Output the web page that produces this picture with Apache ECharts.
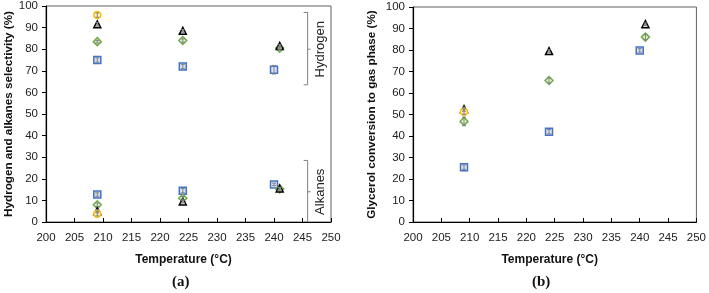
<!DOCTYPE html>
<html><head><meta charset="utf-8">
<script src="https://cdn.jsdelivr.net/npm/echarts@6/dist/echarts.min.js"></script>
<style>html,body{margin:0;padding:0;background:#fff}#c{width:709px;height:293px}</style>
</head><body><div id="c"></div>
<script>
// ---- data ----
const xTicks = [200, 205, 210, 215, 220, 225, 230, 235, 240, 245, 250];
const yTicks = [0, 10, 20, 30, 40, 50, 60, 70, 80, 90, 100];
const tempsBlue = [209, 224, 240];
const tempsBG = [209, 224, 241];   // black & green
const tempsYellow = [209];

// (a) hydrogen selectivity
const blueH = [75, 72, 70.5];
const greenH = [83.5, 84, 80.5];
const blackH = [91.5, 88.5, 81.5];
const yellowH = [95.8];
// (a) alkanes selectivity
const blueA = [12.7, 14.5, 17.4];
const greenA = [8, 11, 15.3];
const blackA = [5, 9.5, 15.5];
const yellowA = [3.8];
// (b) glycerol conversion to gas phase
const blueG = [25.5, 42, 79.8];
const greenG = [46.8, 65.8, 86];
const blackG = [52.5, 79.5, 92];
const yellowG = [51.3];

// error bars (half-widths)
const blueHErr = [1, 1, 2];
const greenHErr = [0.6, 0.8, 0.6];
const blackHErr = [0.8, 0.6, 0.6];
const yellowHErr = [1];
const blueAErr = [0.8, 1, 0.6];
const greenAErr = [0.8, 0.8, 0.6];
const blackAErr = [0.8, 0.6, 0.6];
const yellowAErr = [1];
const blueGErr = [1, 1, 0.8];
const greenGErr = [2, 1.2, 1.2];
const blackGErr = [1, 0.6, 0.6];
const yellowGErr = [1.2];

const pair = (xs, ys) => xs.map((x, i) => [x, ys[i]]);
const errPair = (xs, ys, es) => xs.map((x, i) => [x, ys[i], es[i]]);

const styles = {
  blue:   {symbol: 'rect',     size: 7, border: '#4472C4', fill: '#dae3f3'},
  green:  {symbol: 'diamond',  size: 8, border: '#70AD47', fill: '#e2f0d9'},
  black:  {symbol: 'triangle', size: 7, border: '#000000', fill: '#e0e0e0'},
  yellow: {symbol: 'circle',   size: 7, border: '#FFC000', fill: '#fff2cc'}
};

function scat(idx, key, xs, ys, z) {
  const s = styles[key];
  return {type: 'scatter', xAxisIndex: idx, yAxisIndex: idx, symbol: s.symbol, symbolSize: s.size,
    itemStyle: {color: s.fill, borderColor: s.border, borderWidth: 1.5, opacity: 1},
    z: z, silent: true, data: pair(xs, ys)};
}
function errs(idx, xs, ys, es) {
  return {type: 'custom', xAxisIndex: idx, yAxisIndex: idx, z: 10, silent: true,
    data: errPair(xs, ys, es),
    renderItem: function (params, api) {
      const x = api.value(0), y = api.value(1), e = api.value(2);
      const top = api.coord([x, y + e]), bot = api.coord([x, y - e]);
      const st = {stroke: '#808080', lineWidth: 1};
      return {type: 'group', children: [
        {type: 'line', shape: {x1: top[0], y1: top[1], x2: bot[0], y2: bot[1]}, style: st},
        {type: 'line', shape: {x1: top[0] - 2, y1: top[1], x2: top[0] + 2, y2: top[1]}, style: st},
        {type: 'line', shape: {x1: bot[0] - 2, y1: bot[1], x2: bot[0] + 2, y2: bot[1]}, style: st}
      ]};
    }};
}

const tickFont = {fontFamily: 'Liberation Sans', fontSize: 11.5, color: '#222'};
const titleFont = {fontFamily: 'Liberation Sans', fontSize: 11.7, fontWeight: 'bold', color: '#111'};

function xAx(idx) {
  return {type: 'value', gridIndex: idx, min: 200, max: 250, interval: 5,
    axisLine: {show: true, lineStyle: {color: '#000', width: 1.2}},
    axisTick: {show: true, inside: true, length: 4, lineStyle: {color: '#000'}},
    splitLine: {show: false},
    axisLabel: Object.assign({margin: 10, formatter: v => xTicks.includes(v) ? String(v) : ''}, tickFont),
    name: 'Temperature (°C)', nameLocation: 'middle', nameGap: 32,
    nameTextStyle: Object.assign({padding: [0, 10, 0, 0]}, titleFont, {fontSize: 12})};
}
function yAx(idx, name, gap) {
  return {type: 'value', gridIndex: idx, min: 0, max: 100, interval: 10,
    axisLine: {show: true, lineStyle: {color: '#000', width: 1.2}},
    axisTick: {show: true, inside: false, length: 4, lineStyle: {color: '#000'}},
    splitLine: {show: false},
    axisLabel: Object.assign({margin: 8, formatter: v => yTicks.includes(v) ? String(v) : ''}, tickFont),
    name: name, nameLocation: 'middle', nameGap: gap, nameRotate: 90,
    nameTextStyle: titleFont};
}

const chart = echarts.init(document.getElementById('c'), null, {renderer: 'canvas'});
const option = {
  animation: false,
  backgroundColor: '#fff',
  grid: [
    {left: 46, top: 6, right: 378, bottom: 71, show: true, borderColor: '#606060', borderWidth: 1, backgroundColor: 'transparent'},
    {left: 413, top: 7, right: 11, bottom: 71, show: true, borderColor: '#606060', borderWidth: 1, backgroundColor: 'transparent'}
  ],
  xAxis: [xAx(0), xAx(1)],
  yAxis: [yAx(0, 'Hydrogen and alkanes selectivity (%)', 31), yAx(1, 'Glycerol conversion to gas phase (%)', 35)],
  series: [
    scat(0, 'blue', tempsBlue, blueH, 2), scat(0, 'green', tempsBG, greenH, 3),
    scat(0, 'black', tempsBG, blackH, 4), scat(0, 'yellow', tempsYellow, yellowH, 5),
    scat(0, 'blue', tempsBlue, blueA, 2), scat(0, 'green', tempsBG, greenA, 3),
    scat(0, 'black', tempsBG, blackA, 4), scat(0, 'yellow', tempsYellow, yellowA, 5),
    scat(1, 'blue', tempsBlue, blueG, 2), scat(1, 'green', tempsBG, greenG, 3),
    scat(1, 'black', tempsBG, blackG, 4), scat(1, 'yellow', tempsYellow, yellowG, 5),
    errs(0, tempsBlue, blueH, blueHErr), errs(0, tempsBG, greenH, greenHErr),
    errs(0, tempsBG, blackH, blackHErr), errs(0, tempsYellow, yellowH, yellowHErr),
    errs(0, tempsBlue, blueA, blueAErr), errs(0, tempsBG, greenA, greenAErr),
    errs(0, tempsBG, blackA, blackAErr), errs(0, tempsYellow, yellowA, yellowAErr),
    errs(1, tempsBlue, blueG, blueGErr), errs(1, tempsBG, greenG, greenGErr),
    errs(1, tempsBG, blackG, blackGErr), errs(1, tempsYellow, yellowG, yellowGErr)
  ]
};
chart.setOption(option);

// brace annotations (data coordinates of panel a)
const braces = [
  {label: 'Hydrogen', top: 97, bottom: 63.5, mid: 80},
  {label: 'Alkanes', top: 28.5, bottom: 0, mid: 14}
];
const braceX = 245.9, labelX = 248.1;
const g = [];
braces.forEach(b => {
  const p = v => chart.convertToPixel({gridIndex: 0}, [braceX, v]);
  const t = p(b.top), bt = p(b.bottom), m = p(b.mid);
  const lx = chart.convertToPixel({gridIndex: 0}, [labelX, b.mid]);
  const st = {stroke: '#808080', lineWidth: 1, fill: null};
  g.push({type: 'polyline', silent: true, shape: {points: [[t[0] - 4, t[1]], [t[0], t[1]], [bt[0], bt[1]], [bt[0] - 4, bt[1]]]}, style: st});
  g.push({type: 'line', silent: true, shape: {x1: m[0], y1: m[1], x2: m[0] + 3, y2: m[1]}, style: st});
  g.push({type: 'text', silent: true, x: lx[0], y: lx[1], rotation: Math.PI / 2,
    style: {text: b.label, fontFamily: 'Liberation Sans', fontSize: 13, fill: '#222', align: 'center', verticalAlign: 'middle'}});
});
g.push({type: 'text', left: 172, top: 275, style: {text: '(a)', fontFamily: 'Liberation Serif', fontWeight: 'bold', fontSize: 15, fill: '#111'}});
g.push({type: 'text', left: 532, top: 275, style: {text: '(b)', fontFamily: 'Liberation Serif', fontWeight: 'bold', fontSize: 15, fill: '#111'}});
chart.setOption({graphic: g});
</script></body></html>
